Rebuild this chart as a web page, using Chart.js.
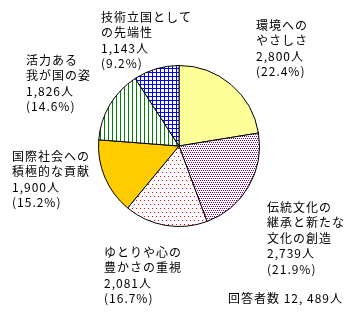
<!DOCTYPE html>
<html>
<head>
<meta charset="utf-8">
<script src="https://cdn.jsdelivr.net/npm/chart.js@4"></script>
<style>
  html, body { margin: 0; padding: 0; background: #fff; }
  #wrap { width: 350px; height: 325px; }
</style>
</head>
<body>
<div id="wrap"><canvas id="pieChart" width="350" height="325"></canvas></div>
<script>
// data
const categories = [
  ["環境への", "やさしさ"],
  ["伝統文化の", "継承と新たな", "文化の創造"],
  ["ゆとりや心の", "豊かさの重視"],
  ["国際社会への", "積極的な貢献"],
  ["活力ある", "我が国の姿"],
  ["技術立国として", "の先端性"]
]
const counts = [2800, 2739, 2081, 1900, 1826, 1143]
const percents = [22.4, 21.9, 16.7, 15.2, 14.6, 9.2]
const totalLabel = "回答者数 12, 489人"

// where each label block starts (top-left line centre)
const labelPos = [
  { x: 256, y: 25 },
  { x: 267, y: 207 },
  { x: 104, y: 252 },
  { x: 12, y: 156 },
  { x: 26, y: 60 },
  { x: 101, y: 17 }
]

const makePattern = (size, bg, draw) => {
  const c = document.createElement("canvas")
  c.width = size
  c.height = size
  const g = c.getContext("2d")
  g.fillStyle = bg
  g.fillRect(0, 0, size, size)
  draw(g)
  return g.createPattern(c, "repeat")
}

const ctx = document.getElementById("pieChart").getContext("2d")

const purpleDots = makePattern(4, "#ffffff", (g) => {
  g.fillStyle = "#800080"
  g.fillRect(0, 0, 1, 1)
  g.fillRect(2, 0, 1, 1)
  g.fillRect(1, 2, 1, 1)
  g.fillRect(3, 2, 1, 1)
})
const redDots = makePattern(8, "#ffffff", (g) => {
  g.fillStyle = "#ff0000"
  g.fillRect(0, 0, 1, 1)
  g.fillRect(4, 0, 1, 1)
  g.fillRect(2, 4, 1, 1)
  g.fillRect(6, 4, 1, 1)
})
const greenStripes = makePattern(4, "#ffffff", (g) => {
  g.fillStyle = "#008000"
  g.fillRect(0, 0, 1, 4)
})
const blueGrid = makePattern(4, "#ffffff", (g) => {
  g.fillStyle = "#0000ff"
  g.fillRect(0, 0, 4, 1)
  g.fillRect(0, 0, 1, 4)
})

const colors = ["#ffff99", purpleDots, redDots, "#ffcc00", greenStripes, blueGrid]

const FONT = '12px "Noto Sans CJK JP", "Noto Sans", sans-serif'
const LINE = 15.5

const labelPlugin = {
  id: "sliceLabels",
  afterDraw(chart) {
    const g = chart.ctx
    g.save()
    g.font = FONT
    g.letterSpacing = "1px"
    g.fillStyle = "#000"
    g.textBaseline = "middle"
    g.textAlign = "left"
    categories.forEach((lines, i) => {
      const all = [...lines, counts[i].toLocaleString("en-US") + "人", "(" + percents[i].toFixed(1) + "%)"]
      all.forEach((t, k) => g.fillText(t, labelPos[i].x, labelPos[i].y + k * LINE))
    })
    g.textAlign = "right"
    g.fillText(totalLabel, 343, 298)
    g.restore()
  }
}

new Chart(ctx, {
  type: "pie",
  data: {
    labels: categories.map((c) => c.join("")),
    datasets: [{
      data: counts,
      backgroundColor: colors,
      borderColor: "#000000",
      borderWidth: 1
    }]
  },
  options: {
    responsive: false,
    animation: false,
    layout: { padding: { left: 98, right: 90, top: 65, bottom: 98 } },
    plugins: {
      legend: { display: false },
      tooltip: { enabled: false }
    }
  },
  plugins: [labelPlugin]
})
</script>
</body>
</html>
